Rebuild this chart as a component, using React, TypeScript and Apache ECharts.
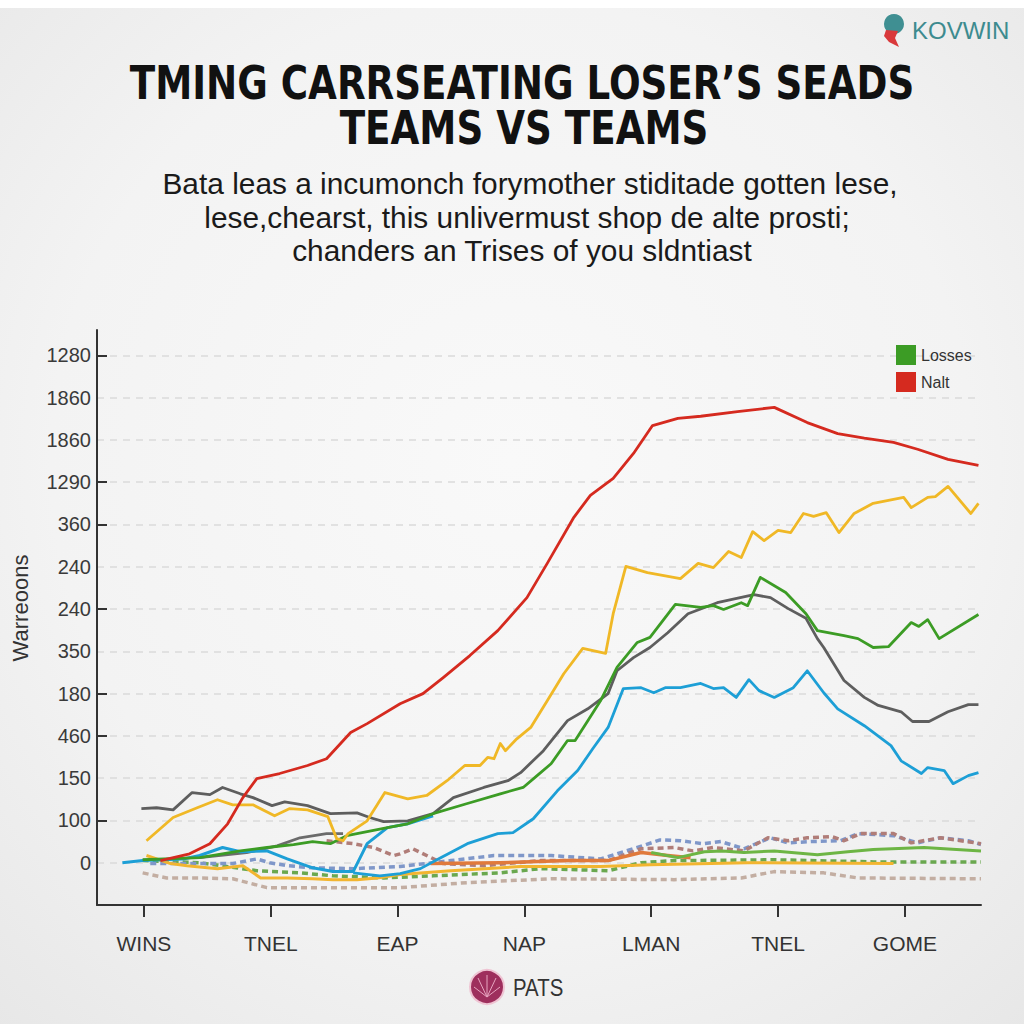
import React, { useEffect, useRef } from 'react';
import * as echarts from 'echarts';

const xLabels = ['WINS', 'TNEL', 'EAP', 'NAP', 'LMAN', 'TNEL', 'GOME'];
const yLabels = ['0', '100', '150', '460', '180', '350', '240', '240', '360', '1290', '1860', '1860', '1280'];
const yTickPositions = [1, 3, 4, 6, 8, 9, 12];

const nalt = [[0.13,0.05],[0.36,0.21],[0.52,0.45],[0.66,0.92],[0.78,1.54],[0.89,1.99],[1.07,2.11],[1.29,2.30],[1.44,2.46],[1.63,3.08],[1.76,3.29],[2.02,3.76],[2.20,4.00],[2.36,4.38],[2.57,4.90],[2.79,5.49],[3.02,6.27],[3.18,7.08],[3.39,8.17],[3.52,8.69],[3.70,9.09],[3.86,9.68],[4.01,10.34],[4.21,10.51],[4.39,10.56],[4.68,10.67],[4.97,10.77],[5.23,10.41],[5.47,10.15],[5.68,10.04],[5.91,9.94],[6.10,9.78],[6.34,9.54],[6.58,9.40]];

const yellowMain = [[0.02,0.52],[0.23,1.07],[0.42,1.30],[0.58,1.49],[0.70,1.37],[0.86,1.37],[1.03,1.11],[1.15,1.28],[1.29,1.25],[1.45,1.09],[1.52,0.57],[1.57,0.52],[1.61,0.69],[1.76,0.99],[1.90,1.66],[2.08,1.51],[2.23,1.59],[2.39,1.94],[2.53,2.30],[2.65,2.30],[2.71,2.49],[2.76,2.46],[2.81,2.82],[2.85,2.65],[2.94,2.93],[3.05,3.20],[3.18,3.83],[3.31,4.47],[3.46,5.07],[3.64,4.95],[3.70,5.89],[3.80,7.01],[3.97,6.86],[4.23,6.72],[4.37,7.08],[4.49,6.98],[4.61,7.36],[4.71,7.22],[4.80,7.83],[4.89,7.62],[5.00,7.86],[5.10,7.81],[5.20,8.26],[5.28,8.19],[5.38,8.28],[5.48,7.81],[5.60,8.26],[5.75,8.50],[5.99,8.64],[6.05,8.40],[6.18,8.64],[6.24,8.66],[6.34,8.90],[6.52,8.26],[6.58,8.50]];

const losses = [[-0.01,0.07],[0.44,0.12],[0.76,0.28],[0.97,0.36],[1.18,0.43],[1.33,0.50],[1.47,0.45],[1.60,0.64],[1.92,0.83],[2.08,0.92],[2.28,1.16],[2.55,1.40],[2.81,1.63],[2.99,1.78],[3.10,2.06],[3.21,2.34],[3.34,2.89],[3.40,2.89],[3.50,3.36],[3.60,3.83],[3.73,4.62],[3.89,5.21],[3.99,5.33],[4.19,6.11],[4.39,6.04],[4.49,6.08],[4.57,5.99],[4.71,6.15],[4.76,6.08],[4.86,6.75],[5.06,6.39],[5.22,5.89],[5.31,5.49],[5.52,5.37],[5.63,5.30],[5.75,5.09],[5.87,5.11],[6.05,5.68],[6.11,5.59],[6.18,5.75],[6.27,5.30],[6.58,5.87]];

const grayMain = [[-0.02,1.28],[0.10,1.30],[0.23,1.25],[0.38,1.66],[0.52,1.61],[0.62,1.78],[0.76,1.63],[0.86,1.54],[1.01,1.35],[1.11,1.44],[1.29,1.35],[1.47,1.16],[1.68,1.18],[1.78,1.07],[1.89,0.97],[2.08,0.99],[2.28,1.16],[2.44,1.54],[2.68,1.78],[2.87,1.94],[2.97,2.13],[3.15,2.65],[3.34,3.36],[3.50,3.64],[3.66,4.00],[3.73,4.54],[3.86,4.85],[3.99,5.09],[4.13,5.44],[4.29,5.89],[4.52,6.15],[4.81,6.34],[4.94,6.27],[5.08,6.01],[5.22,5.78],[5.31,5.30],[5.36,5.09],[5.52,4.31],[5.68,3.91],[5.79,3.72],[5.97,3.57],[6.06,3.34],[6.19,3.34],[6.34,3.57],[6.50,3.74],[6.58,3.74]];

const grayLow = [[0.44,0.12],[0.81,0.24],[1.05,0.40],[1.23,0.59],[1.44,0.69],[1.57,0.69]];

const blueLeft = [[-0.17,0],[-0.01,0.05],[0.31,0.09],[0.44,0.17],[0.62,0.36],[0.76,0.26],[0.97,0.28],[1.13,0.09],[1.33,-0.12],[1.49,-0.21],[1.65,-0.21],[1.76,0.45],[1.92,0.83],[2.08,0.92],[2.28,1.11]];

const blueMain = [[1.65,-0.24],[1.86,-0.31],[2.02,-0.26],[2.18,-0.14],[2.34,0.12],[2.55,0.45],[2.79,0.69],[2.91,0.71],[3.07,1.04],[3.26,1.70],[3.42,2.18],[3.54,2.70],[3.66,3.20],[3.78,4.12],[3.92,4.14],[4.02,4.02],[4.11,4.14],[4.23,4.14],[4.39,4.24],[4.49,4.12],[4.57,4.14],[4.67,3.91],[4.77,4.33],[4.85,4.07],[4.97,3.91],[5.12,4.14],[5.23,4.54],[5.36,4.02],[5.47,3.64],[5.68,3.24],[5.89,2.77],[5.97,2.41],[6.13,2.11],[6.18,2.25],[6.31,2.18],[6.38,1.87],[6.50,2.06],[6.58,2.13]];

const yellowLow = [[0.02,0.17],[0.21,-0.02],[0.34,-0.07],[0.58,-0.14],[0.78,-0.07],[0.92,-0.36],[1.13,-0.36],[1.33,-0.38],[1.49,-0.40],[1.68,-0.40],[1.84,-0.36],[2.02,-0.28],[2.42,-0.19],[2.97,-0.09],[3.60,-0.09],[3.99,-0.05],[4.76,0],[5.91,-0.02]];

const orangeBand = [[2.26,-0.02],[2.81,0],[3.34,0.05],[3.66,0.05],[3.92,0.24],[4.13,0.17],[4.31,0.12]];

const lightGreen = [[4.0,0.24],[4.21,0.12],[4.42,0.26],[4.56,0.28],[4.73,0.24],[4.97,0.28],[5.31,0.19],[5.55,0.26],[5.75,0.31],[6.15,0.36],[6.6,0.28]];

const dashBlue = [[0.05,-0.02],[0.44,-0.02],[0.70,-0.02],[0.89,0.09],[0.99,0],[1.13,-0.07],[1.33,-0.12],[1.65,-0.14],[2.02,-0.09],[2.42,0.05],[2.76,0.17],[3.21,0.17],[3.60,0.09],[3.89,0.36],[4.07,0.54],[4.23,0.52],[4.41,0.45],[4.55,0.50],[4.73,0.33],[4.94,0.59],[5.08,0.47],[5.26,0.50],[5.49,0.52],[5.63,0.69],[5.91,0.64],[6.10,0.47],[6.28,0.59],[6.50,0.52],[6.60,0.43]];

const dashMauve = [[1.44,0.52],[1.65,0.45],[1.81,0.36],[1.97,0.17],[2.02,0.21],[2.12,0.33],[2.36,-0.02],[2.68,-0.07],[3.13,0.05],[3.66,0.05],[3.92,0.33],[4.18,0.36],[4.33,0.28],[4.49,0.36],[4.73,0.28],[4.92,0.59],[5.08,0.52],[5.23,0.59],[5.42,0.62],[5.52,0.52],[5.65,0.69],[5.91,0.69],[6.05,0.47],[6.28,0.59],[6.60,0.45]];

const dashGreen = [[-0.01,0.05],[0.44,0],[0.89,-0.19],[1.23,-0.24],[1.49,-0.31],[1.89,-0.36],[2.28,-0.31],[2.81,-0.24],[3.13,-0.14],[3.66,-0.19],[3.92,0],[4.18,0.05],[4.97,0.07],[5.75,0.02],[6.60,0.02]];

const dashTan = [[-0.01,-0.24],[0.18,-0.36],[0.44,-0.36],[0.70,-0.38],[0.97,-0.59],[1.49,-0.59],[2.02,-0.59],[2.55,-0.47],[3.21,-0.38],[4.18,-0.40],[4.71,-0.36],[4.97,-0.21],[5.36,-0.24],[5.63,-0.36],[6.60,-0.38]];

const allInts = [0, 1, 2, 3, 4, 5, 6, 7, 8, 9, 10, 11, 12];
const xInts = [0, 1, 2, 3, 4, 5, 6];

function mkLine(name: string, data: number[][], color: string, width: number, dashed: boolean, z: number) {
  return {
    type: 'line',
    name,
    data,
    symbol: 'none',
    smooth: false,
    silent: true,
    z,
    xAxisIndex: 0,
    yAxisIndex: 0,
    itemStyle: { color },
    lineStyle: { color, width, type: dashed ? [6, 4] : 'solid', cap: 'butt', join: 'round' },
  };
}

export default function App() {
  const ref = useRef<HTMLDivElement>(null);
  useEffect(() => {
    const chart = echarts.init(ref.current!, null, { renderer: 'svg', width: 1024, height: 1024 });
    const font = "'Liberation Sans', Arial, sans-serif";
    const option: any = {
      animation: false,
      backgroundColor: {
        type: 'radial', x: 0.5, y: 0.45, r: 0.75,
        colorStops: [{ offset: 0, color: '#f9f9f9' }, { offset: 0.6, color: '#f3f3f3' }, { offset: 1, color: '#e7e7e7' }],
      },
      textStyle: { fontFamily: font },
      grid: { left: 97, right: 43, top: 330, bottom: 119, containLabel: false },
      legend: {
        data: ['Losses', 'Nalt'],
        orient: 'vertical',
        left: 891,
        top: 340,
        icon: 'rect',
        itemWidth: 20,
        itemHeight: 20,
        itemGap: 7,
        selectedMode: false,
        textStyle: { fontSize: 16, color: '#333', fontFamily: font },
      },
      xAxis: {
        type: 'value',
        min: -0.37,
        max: 6.6,
        axisLine: { show: true, onZero: false, lineStyle: { color: '#333', width: 2 } },
        axisTick: { show: true, customValues: xInts, length: 12, lineStyle: { color: '#333', width: 2 } },
        axisLabel: {
          customValues: xInts,
          formatter: (v: number) => xLabels[Math.round(v)] ?? '',
          margin: 28,
          fontSize: 21,
          color: '#333',
          fontFamily: font,
        },
        splitLine: { show: false },
      },
      yAxis: [
        {
          type: 'value',
          min: -1,
          max: 12.6,
          axisLine: { show: true, onZero: false, lineStyle: { color: '#333', width: 2 } },
          axisTick: { show: true, inside: true, length: 10, customValues: yTickPositions, lineStyle: { color: '#333', width: 2 } },
          axisLabel: {
            customValues: allInts,
            formatter: (v: number) => yLabels[Math.round(v)] ?? '',
            margin: 6,
            fontSize: 20,
            color: '#3a3a3a',
            fontFamily: font,
          },
          splitLine: { show: false },
        },
        {
          type: 'value',
          min: -1,
          max: 12.6,
          position: 'left',
          axisLine: { show: false, onZero: false },
          axisLabel: { show: false },
          axisTick: { show: false, customValues: allInts },
          splitLine: { show: true, lineStyle: { color: '#dadada', width: 1.5, type: [7, 6] } },
        },
      ],
      series: [
        mkLine('dashTan', dashTan, '#c3aea2', 3.5, true, 2),
        mkLine('dashGreen', dashGreen, '#6aa84f', 3.5, true, 2),
        mkLine('dashBlue', dashBlue, '#7f97c9', 3.5, true, 2),
        mkLine('dashMauve', dashMauve, '#b07d78', 3.5, true, 2),
        mkLine('yellowLow', yellowLow, '#f2b530', 3, false, 3),
        mkLine('orangeBand', orangeBand, '#e07a3c', 3.5, false, 3),
        mkLine('lightGreen', lightGreen, '#6db544', 3, false, 3),
        mkLine('grayLow', grayLow, '#6b6b6b', 2.8, false, 4),
        mkLine('blueLeft', blueLeft, '#1d9fd6', 3, false, 4),
        mkLine('grayMain', grayMain, '#5e5e5e', 2.8, false, 5),
        mkLine('blueMain', blueMain, '#1d9fd6', 2.8, false, 5),
        mkLine('Losses', losses, '#3c9c25', 2.8, false, 6),
        mkLine('yellowMain', yellowMain, '#f0b826', 2.8, false, 6),
        mkLine('Nalt', nalt, '#d52a1f', 2.8, false, 7),
      ],
      graphic: [
        { type: 'rect', shape: { x: 0, y: 0, width: 1024, height: 8 }, style: { fill: '#ffffff' }, z: -1 },
        {
          type: 'text', x: 522, y: 83, scaleX: 0.81,
          style: { text: 'TMING CARRSEATING LOSER’S SEADS', fontFamily: "'DejaVu Sans', sans-serif", fontWeight: 'bold', fontSize: 46, fill: '#111', align: 'center', verticalAlign: 'middle' },
        },
        {
          type: 'text', x: 524, y: 128, scaleX: 0.81,
          style: { text: 'TEAMS VS TEAMS', fontFamily: "'DejaVu Sans', sans-serif", fontWeight: 'bold', fontSize: 46, fill: '#111', align: 'center', verticalAlign: 'middle' },
        },
        {
          type: 'text', x: 530, y: 184, scaleX: 1.03,
          style: { text: 'Bata leas a incumonch forymother stiditade gotten lese,', fontFamily: font, fontSize: 29, fill: '#1a1a1a', align: 'center', verticalAlign: 'middle' },
        },
        {
          type: 'text', x: 527, y: 218, scaleX: 1.03,
          style: { text: 'lese,chearst, this unlivermust shop de alte prosti;', fontFamily: font, fontSize: 29, fill: '#1a1a1a', align: 'center', verticalAlign: 'middle' },
        },
        {
          type: 'text', x: 522, y: 251, scaleX: 1.03,
          style: { text: 'chanders an Trises of you sldntiast', fontFamily: font, fontSize: 29, fill: '#1a1a1a', align: 'center', verticalAlign: 'middle' },
        },
        {
          type: 'text', x: 20, y: 608, rotation: Math.PI / 2,
          style: { text: 'Warreoons', fontFamily: font, fontSize: 22, fill: '#333', align: 'center', verticalAlign: 'middle' },
        },
        { type: 'circle', shape: { cx: 894, cy: 24, r: 10 }, style: { fill: '#3f8f92' } },
        { type: 'polygon', shape: { points: [[886, 30], [898, 31], [895, 38], [899, 47], [889, 42], [884, 36]] }, style: { fill: '#d9393b' } },
        {
          type: 'text', x: 912, y: 30,
          style: { text: 'KOVWIN', fontFamily: font, fontSize: 24, fill: '#3d8b8f', align: 'left', verticalAlign: 'middle' },
        },
        { type: 'circle', shape: { cx: 487, cy: 987, r: 17 }, style: { fill: '#9e2f5d', stroke: '#efc4d3', lineWidth: 2 } },
        { type: 'line', shape: { x1: 487, y1: 997, x2: 478, y2: 978 }, style: { stroke: '#e7a5c0', lineWidth: 1 } },
        { type: 'line', shape: { x1: 487, y1: 997, x2: 487, y2: 975 }, style: { stroke: '#e7a5c0', lineWidth: 1 } },
        { type: 'line', shape: { x1: 487, y1: 997, x2: 496, y2: 978 }, style: { stroke: '#e7a5c0', lineWidth: 1 } },
        { type: 'line', shape: { x1: 487, y1: 997, x2: 474, y2: 987 }, style: { stroke: '#e7a5c0', lineWidth: 1 } },
        { type: 'line', shape: { x1: 487, y1: 997, x2: 500, y2: 987 }, style: { stroke: '#e7a5c0', lineWidth: 1 } },
        {
          type: 'text', x: 513, y: 988, scaleX: 0.85,
          style: { text: 'PATS', fontFamily: font, fontSize: 24, fill: '#333', align: 'left', verticalAlign: 'middle' },
        },
      ],
    };
    chart.setOption(option);
    return () => chart.dispose();
  }, []);
  return <div ref={ref} style={{ position: 'absolute', left: 0, top: 0, width: 1024, height: 1024 }} />;
}
